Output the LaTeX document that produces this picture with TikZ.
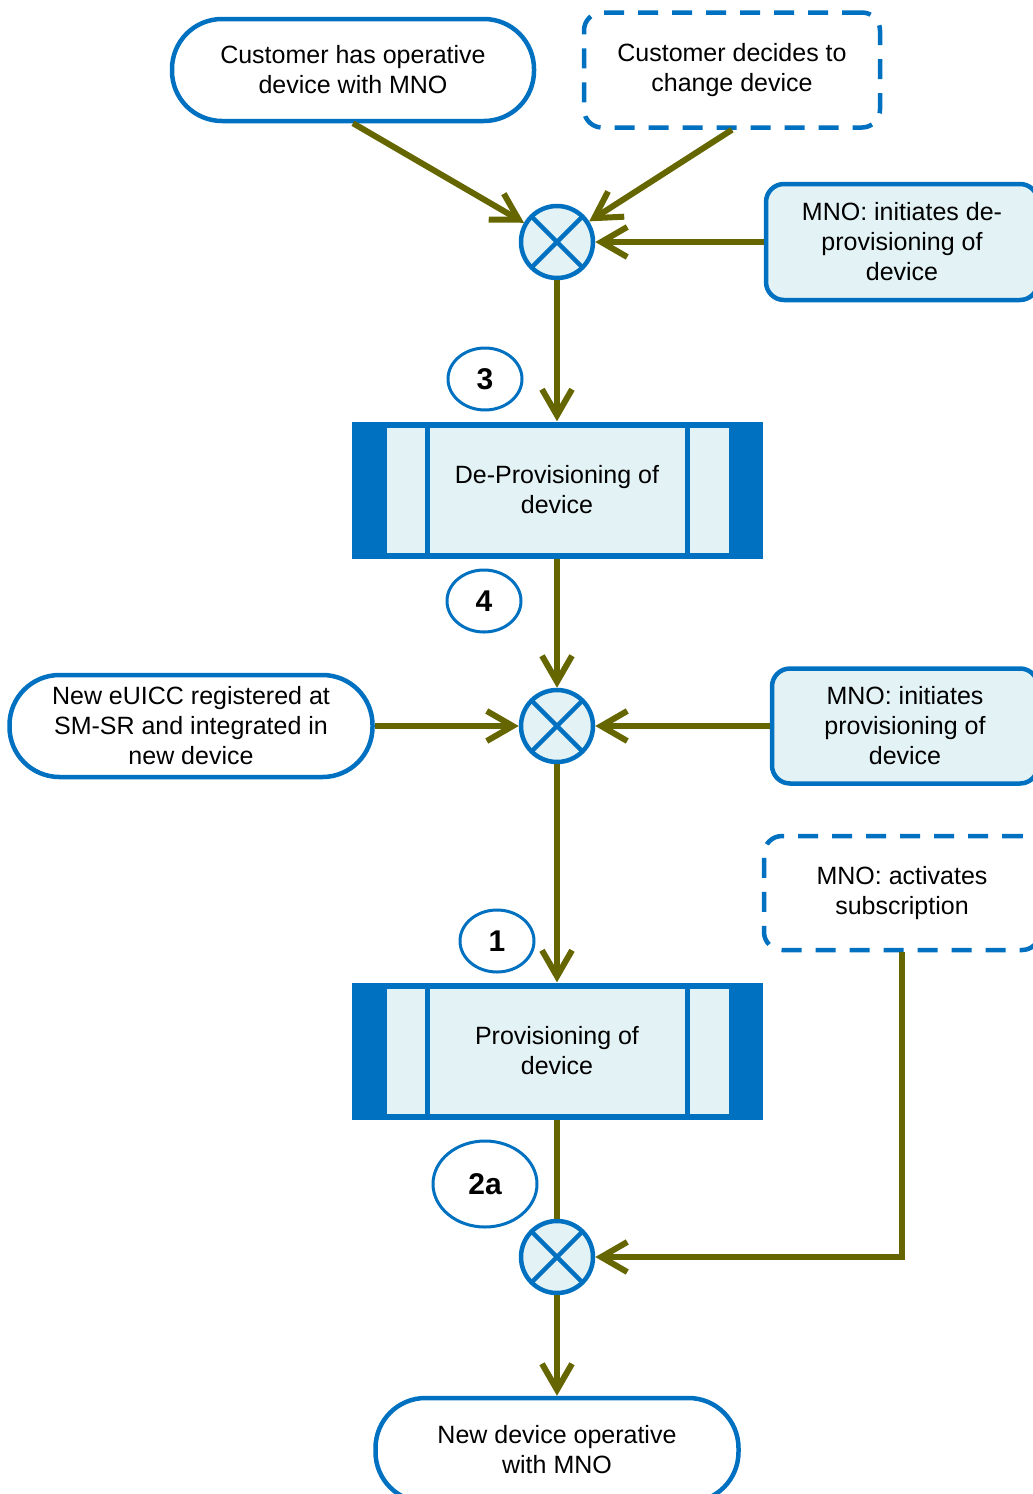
\documentclass[tikz,border=0pt]{standalone}
\usepackage{fontspec}
\setmainfont{Liberation Sans}
\usetikzlibrary{arrows.meta,calc,shapes.geometric}
\definecolor{cblue}{HTML}{0070C0}
\definecolor{clight}{HTML}{E3F2F4}
\definecolor{colive}{HTML}{666600}
\begin{document}
\begin{tikzpicture}[x=1pt,y=-1pt,
  every node/.style={font=\fontsize{25}{30}\selectfont, align=center, inner sep=0pt},
  term/.style={draw=cblue, line width=4.5pt, fill=white, rounded corners=50pt, minimum width=362pt, minimum height=102pt},
  actbox/.style={draw=cblue, line width=4.5pt, fill=clight, rounded corners=18pt},
  evbox/.style={draw=cblue, line width=4.5pt, fill=white, rounded corners=18pt, dash pattern=on 20pt off 14pt},
  xorg/.style={circle, draw=cblue, fill=clight, line width=4.5pt, minimum size=72pt,
    path picture={\draw[cblue, line width=4.5pt] (path picture bounding box.north west) -- (path picture bounding box.south east) (path picture bounding box.north east) -- (path picture bounding box.south west);}},
  proc/.style={fill=cblue, minimum width=411pt, minimum height=137pt,
    path picture={
      \fill[clight] ($(path picture bounding box.north west)+(35,6)$) rectangle ($(path picture bounding box.south west)+(73,-6)$);
      \fill[clight] ($(path picture bounding box.north west)+(78,6)$) rectangle ($(path picture bounding box.south west)+(333,-6)$);
      \fill[clight] ($(path picture bounding box.north west)+(338,6)$) rectangle ($(path picture bounding box.south west)+(377,-6)$);}},
  numl/.style={ellipse, draw=cblue, line width=3pt, fill=white, font=\fontsize{30}{36}\selectfont\bfseries},
  flow/.style={draw=colive, line width=6pt},
  arr/.style={flow, -{Straight Barb[length=26pt,width=30pt]}}
]
\useasboundingbox (0,0) rectangle (1033,1494);

\node[term] (cust) at (353,70) {Customer has operative\\device with MNO};
\node[evbox, minimum width=296pt, minimum height=115pt] (decide) at (732,70) {Customer decides to\\change device};
\node[xorg] (xor1) at (557,242) {};
\node[actbox, minimum width=272pt, minimum height=116pt] (mnode) at (902,242) {MNO: initiates de-\\provisioning of\\device};
\node[numl, minimum width=74pt, minimum height=62pt] (e3) at (485,379) {3};
\node[proc] (dp) at (557,490) {De-Provisioning of\\device};
\node[numl, minimum width=74pt, minimum height=62pt] (e4) at (484,601) {4};
\node[xorg] (xor2) at (557,726) {};
\node[term, minimum width=363pt] (newe) at (191,726) {New eUICC registered at\\SM-SR and integrated in\\new device};
\node[actbox, minimum width=266pt, minimum height=115pt] (mnop) at (905,726) {MNO: initiates\\provisioning of\\device};
\node[evbox, minimum width=276pt, minimum height=114pt] (act) at (902,893) {MNO: activates\\subscription};
\node[numl, minimum width=74pt, minimum height=62pt] (e1) at (497,941) {1};
\node[proc] (prov) at (557,1051) {Provisioning of\\device};
\node[numl, minimum width=104pt, minimum height=86pt] (e2a) at (485,1184) {2a};
\node[xorg] (xor3) at (557,1257) {};
\node[term, minimum width=363pt, minimum height=104pt] (final) at (557,1450) {New device operative\\with MNO};

\draw[arr] (cust.south) -- (xor1);
\draw[arr] (decide.south) -- (xor1);
\draw[arr] (mnode.west) -- (xor1);
\draw[arr] (xor1) -- (dp);
\draw[arr] (dp) -- (xor2);
\draw[arr] (newe.east) -- (xor2);
\draw[arr] (mnop.west) -- (xor2);
\draw[arr] (xor2) -- (prov);
\draw[flow] (prov) -- (xor3);
\draw[arr] (act.south) |- (xor3);
\draw[arr] (xor3) -- (final);
\end{tikzpicture}
\end{document}
